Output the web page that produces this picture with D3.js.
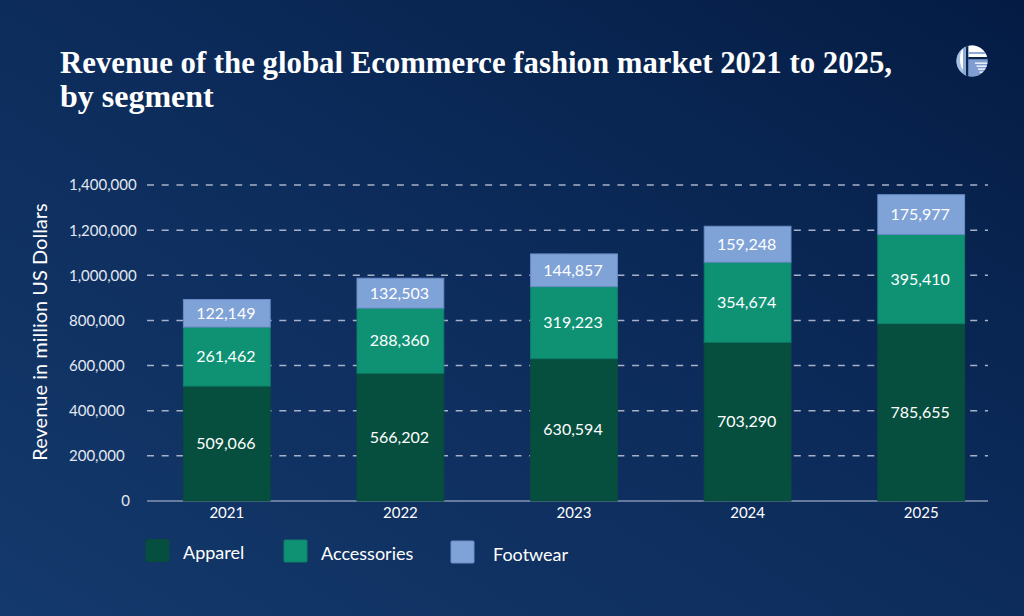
<!DOCTYPE html>
<html>
<head>
<meta charset="utf-8">
<script src="https://cdn.jsdelivr.net/npm/d3@7"></script>
<style>
  html, body { margin: 0; padding: 0; background: #0b2a57; }
  svg { display: block; }
</style>
</head>
<body>
<svg id="chart" width="1024" height="616"></svg>
<script>
// ---- data ----
const years = ["2021", "2022", "2023", "2024", "2025"];
const apparel = [509066, 566202, 630594, 703290, 785655];
const accessories = [261462, 288360, 319223, 354674, 395410];
const footwear = [122149, 132503, 144857, 159248, 175977];
const seriesNames = ["Apparel", "Accessories", "Footwear"];
const yTicks = [0, 200000, 400000, 600000, 800000, 1000000, 1200000, 1400000];
const titleLines = ["Revenue of the global Ecommerce fashion market 2021 to 2025,", "by segment"];
const yAxisTitle = "Revenue in million US Dollars";

// ---- styles ----
const colors = { Apparel: "#064f3e", Accessories: "#0f9274", Footwear: "#7fa2d7" };
const strokes = { Apparel: "#0a4a3d", Accessories: "#0e7f68", Footwear: "#6a8cc6" };
const sansFont = "Lato, 'Open Sans', sans-serif";

const svg = d3.select("#chart");
const W = 1024, H = 616;

// background gradient
const defs = svg.append("defs");
const grad = defs.append("linearGradient").attr("id", "bg")
  .attr("x1", "0").attr("y1", "1").attr("x2", "1").attr("y2", "0");
grad.append("stop").attr("offset", "0%").attr("stop-color", "#14396c");
grad.append("stop").attr("offset", "55%").attr("stop-color", "#0c2b5a");
grad.append("stop").attr("offset", "100%").attr("stop-color", "#041c44");
svg.append("rect").attr("width", W).attr("height", H).attr("fill", "url(#bg)");

// title
const title = svg.append("text")
  .attr("font-family", "'Liberation Serif', 'DejaVu Serif', serif")
  .attr("font-weight", "bold")
  .attr("font-size", 32)
  .attr("fill", "#ffffff");
titleLines.forEach((t, i) => {
  const ts = title.append("tspan").attr("x", 60).attr("y", 73 + i * 34).text(t);
  if (i === 0) ts.attr("textLength", 832).attr("lengthAdjust", "spacingAndGlyphs");
});

// logo
const logo = svg.append("g").attr("transform", "translate(972,61)");
defs.append("clipPath").attr("id", "logoClip").append("circle").attr("r", 15.5);
const lg = logo.append("g").attr("clip-path", "url(#logoClip)");
lg.append("rect").attr("x", -16).attr("y", -16).attr("width", 32).attr("height", 32).attr("fill", "#8eaad6");
lg.append("rect").attr("x", -16).attr("y", -16).attr("width", 10).attr("height", 32).attr("fill", "#a9c0e3");
lg.append("ellipse").attr("cx", -8).attr("cy", -2).attr("rx", 4).attr("ry", 11).attr("fill", "#ffffff");
lg.append("rect").attr("x", -9).attr("y", -16).attr("width", 4).attr("height", 32).attr("fill", "#8eaad6");
lg.append("rect").attr("x", -6).attr("y", -16).attr("width", 2.5).attr("height", 32).attr("fill", "#0a2450");
lg.append("rect").attr("x", -3.5).attr("y", -16).attr("width", 20).attr("height", 12).attr("fill", "#ffffff");
lg.append("rect").attr("x", -3.5).attr("y", -9).attr("width", 20).attr("height", 2).attr("fill", "#8eaad6");
lg.append("rect").attr("x", -3.5).attr("y", -4).attr("width", 20).attr("height", 2.5).attr("fill", "#0a2450");
lg.append("rect").attr("x", -3.5).attr("y", -1.5).attr("width", 20).attr("height", 18).attr("fill", "#7f9dd0");
[1.5, 4.5, 7.5, 10.5].forEach((yy, i) => {
  lg.append("rect").attr("x", 3 + i * 1.5).attr("y", yy).attr("width", 14).attr("height", 1.3).attr("fill", "#ffffff");
});

// scales
const x = d3.scaleBand().domain(years).range([140, 1008]).paddingInner(0.5).paddingOuter(0.25);
const y = d3.scaleLinear().domain([0, 1400000]).range([501, 185]);

// gridlines
const grid = svg.append("g");
grid.selectAll("line").data(yTicks.filter(d => d > 0)).join("line")
  .attr("x1", 147).attr("x2", 988)
  .attr("y1", d => y(d)).attr("y2", d => y(d))
  .attr("stroke", "#a7b1c8").attr("stroke-width", 1.5)
  .attr("stroke-dasharray", "7,7.7");
// baseline
svg.append("line").attr("x1", 147).attr("x2", 988).attr("y1", y(0)).attr("y2", y(0))
  .attr("stroke", "#8594b4").attr("stroke-width", 1.5);

// y axis ticks
const yAxis = svg.append("g").attr("transform", "translate(138,0)")
  .call(d3.axisLeft(y).tickValues(yTicks).tickSize(0).tickPadding(0).tickFormat(d3.format(",")));
yAxis.select(".domain").remove();
yAxis.selectAll("text")
  .attr("font-family", sansFont).attr("font-size", 15).attr("fill", "#e3e8f2")
  .attr("dy", "0.33em")
  .each(function(d) {
    const t = d3.select(this);
    if (d === 0) { t.attr("text-anchor", "end").attr("x", -8); }
    else { t.attr("text-anchor", "start").attr("x", -69); }
  });

// y axis title
svg.append("text")
  .attr("transform", "translate(47,332) rotate(-90)")
  .attr("text-anchor", "middle")
  .attr("font-family", sansFont).attr("font-size", 20).attr("fill", "#ffffff")
  .text(yAxisTitle);

// stacked data
const rows = years.map((yr, i) => ({ year: yr, Apparel: apparel[i], Accessories: accessories[i], Footwear: footwear[i] }));
const stack = d3.stack().keys(seriesNames)(rows);
const fmt = d3.format(",");

const layers = svg.append("g").selectAll("g").data(stack).join("g")
  .attr("fill", d => colors[d.key]);
layers.selectAll("rect").data(d => d.map(v => ({ key: d.key, v }))).join("rect")
  .attr("x", d => x(d.v.data.year))
  .attr("width", x.bandwidth())
  .attr("y", d => y(d.v[1]))
  .attr("height", d => y(d.v[0]) - y(d.v[1]))
  .attr("stroke", d => strokes[d.key])
  .attr("stroke-width", 1);

// value labels
const labels = svg.append("g").selectAll("g").data(stack).join("g");
labels.selectAll("text").data(d => d.map(v => ({ key: d.key, v }))).join("text")
  .attr("x", d => x(d.v.data.year) + x.bandwidth() / 2 - 1)
  .attr("y", d => (y(d.v[0]) + y(d.v[1])) / 2)
  .attr("dy", "0.35em")
  .attr("text-anchor", "middle")
  .attr("font-family", sansFont).attr("font-size", 16).attr("fill", "#ffffff")
  .text(d => fmt(d.v.data[d.key]));

// x axis
const xAxis = svg.append("g").attr("transform", "translate(0,505)")
  .call(d3.axisBottom(x).tickSize(0).tickPadding(0));
xAxis.select(".domain").remove();
xAxis.selectAll("text")
  .attr("font-family", sansFont).attr("font-size", 15).attr("fill", "#ffffff")
  .attr("dy", "0.71em").attr("y", 2);

// legend
const legendPos = [
  { name: "Apparel", sx: 146, sy: 539.5, tx: 183, ty: 559 },
  { name: "Accessories", sx: 284, sy: 540, tx: 321, ty: 559.5 },
  { name: "Footwear", sx: 451, sy: 541, tx: 493, ty: 561 }
];
const legend = svg.append("g").selectAll("g").data(legendPos).join("g");
legend.append("rect")
  .attr("x", d => d.sx).attr("y", d => d.sy)
  .attr("width", 23).attr("height", 22).attr("rx", 1)
  .attr("fill", d => colors[d.name])
  .attr("stroke", d => strokes[d.name]).attr("stroke-width", 1);
legend.append("text")
  .attr("x", d => d.tx).attr("y", d => d.ty)
  .attr("font-family", sansFont).attr("font-size", 18).attr("fill", "#ffffff")
  .text(d => d.name);
</script>
</body>
</html>
